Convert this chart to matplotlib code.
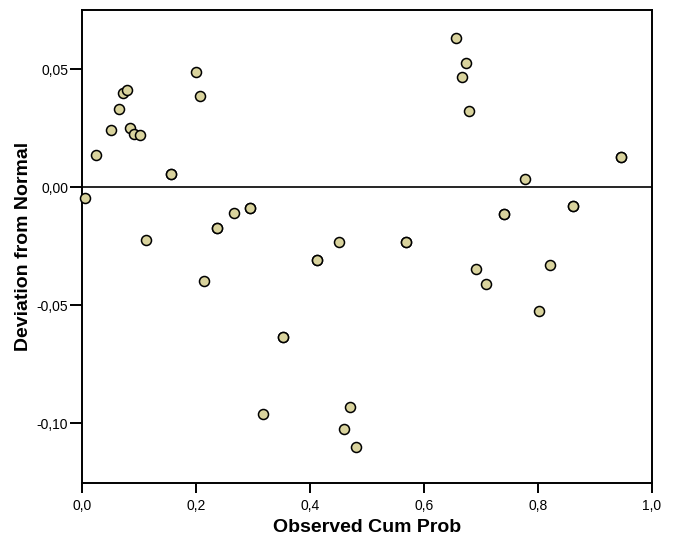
import matplotlib
matplotlib.use('Agg')
import matplotlib.pyplot as plt
from matplotlib.ticker import FuncFormatter

# observed cumulative probability vs. deviation from normal (detrended P-P)
# tied cases appear twice, so their markers overlap
obs_cum_prob = [0.005, 0.025, 0.051, 0.065, 0.072, 0.079, 0.084, 0.091, 0.102, 0.112,
                0.156, 0.156, 0.200, 0.207, 0.214, 0.237, 0.237, 0.267, 0.294, 0.294,
                0.318, 0.352, 0.352, 0.412, 0.412, 0.450, 0.460, 0.470, 0.480,
                0.568, 0.568, 0.656, 0.666, 0.673, 0.679, 0.692, 0.709, 0.740, 0.740,
                0.777, 0.801, 0.821, 0.861, 0.861, 0.946, 0.946]
deviation = [-0.0047, 0.0136, 0.0242, 0.0330, 0.0398, 0.0412, 0.0250, 0.0225, 0.0222, -0.0224,
             0.0055, 0.0055, 0.0487, 0.0386, -0.0400, -0.0173, -0.0173, -0.0112, -0.0090, -0.0090,
             -0.0963, -0.0637, -0.0637, -0.0310, -0.0310, -0.0234, -0.1025, -0.0933, -0.1100,
             -0.0234, -0.0234, 0.0630, 0.0466, 0.0524, 0.0322, -0.0346, -0.0410, -0.0114, -0.0114,
             0.0034, -0.0525, -0.0329, -0.0082, -0.0082, 0.0128, 0.0128]

x_ticks = [0.0, 0.2, 0.4, 0.6, 0.8, 1.0]
y_ticks = [-0.10, -0.05, 0.00, 0.05]

plt.rcParams['font.family'] = ['Liberation Sans', 'DejaVu Sans']

fig = plt.figure(figsize=(6.79, 5.43), dpi=100)
ax = fig.add_axes([82 / 679, 1 - 483 / 543, 570 / 679, 473 / 543])

ax.axhline(0, color='black', linewidth=1.2, zorder=1)
ax.scatter(obs_cum_prob, deviation, s=52, facecolor='#d9d39d', edgecolor='black',
           linewidth=1.1, zorder=3, clip_on=False)

ax.set_xlim(0, 1.0)
ax.set_ylim(-0.1254, 0.075)
ax.set_xticks(x_ticks)
ax.set_yticks(y_ticks)
ax.xaxis.set_major_formatter(FuncFormatter(lambda v, p: f'{v:.1f}'.replace('.', ',')))
ax.yaxis.set_major_formatter(FuncFormatter(lambda v, p: f'{v:.2f}'.replace('.', ',')))
ax.tick_params(axis='x', direction='out', length=7.5, width=1.4, labelsize=10, pad=4)
ax.tick_params(axis='y', direction='out', length=9, width=1.4, labelsize=10, pad=1)

for side in ['left', 'bottom', 'top', 'right']:
    ax.spines[side].set_linewidth(1.4)

ax.set_xlabel('Observed Cum Prob', fontsize=14, fontweight='bold', labelpad=4)
ax.set_ylabel('Deviation from Normal', fontsize=14, fontweight='bold', labelpad=3)

fig.savefig('out.png', dpi=100)
